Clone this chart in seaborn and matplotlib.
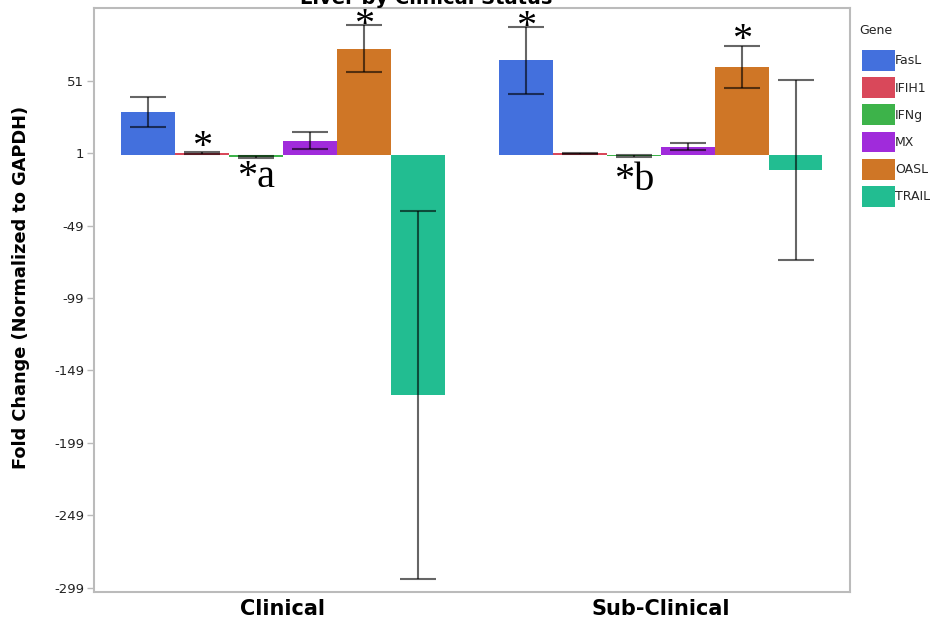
import matplotlib
matplotlib.use("Agg")
import matplotlib.pyplot as plt
import seaborn as sns
import pandas as pd

# values
groups = ["Clinical", "Sub-Clinical"]
genes = ["FasL", "IFIH1", "IFNg", "MX", "OASL", "TRAIL"]
clinical_mean = [29.6, 1.2, -1.6, 9.5, 73.0, -166.0]
clinical_err = [10.3, 0.5, 0.9, 6.0, 16.3, 127.0]
subclin_mean = [65.0, 0.8, -1.2, 5.5, 60.5, -10.6]
subclin_err = [23.0, 0.4, 0.8, 2.5, 14.6, 62.0]
palette = ["#4370DD", "#D9485A", "#3DB34A", "#A02BDB", "#CF7626", "#22BD91"]
y_ticks = [51, 1, -49, -99, -149, -199, -249, -299]

# significance marks: (group, gene, text, y)
marks = [("Clinical", "IFIH1", "*", 5),
         ("Clinical", "IFNg", "*a", -16),
         ("Clinical", "OASL", "*", 89),
         ("Sub-Clinical", "FasL", "*", 88),
         ("Sub-Clinical", "IFNg", "*b", -18),
         ("Sub-Clinical", "OASL", "*", 79)]

sns.set_theme(style="white")
plt.rcParams['font.family'] = ['DejaVu Sans']

df = pd.DataFrame({
    "Status": [groups[0]] * len(genes) + [groups[1]] * len(genes),
    "Gene": genes + genes,
    "Fold": clinical_mean + subclin_mean,
    "Err": clinical_err + subclin_err,
})

fig = plt.figure(figsize=(9.46, 6.23), dpi=100)
ax = fig.add_axes([0.0994, 0.0498, 0.799, 0.937])

sns.barplot(data=df, x="Status", y="Fold", hue="Gene", hue_order=genes,
            palette=palette, width=0.855, gap=0, errorbar=None,
            saturation=1, linewidth=0, ax=ax)

# error bars, placed on the bars seaborn drew
centers = {}
for gene, cont in zip(genes, ax.containers):
    sub = df[df["Gene"] == gene].set_index("Status")
    for grp, bar in zip(groups, cont):
        x = bar.get_x() + bar.get_width() / 2
        centers[(grp, gene)] = x
        ax.errorbar(x, sub.loc[grp, "Fold"], yerr=sub.loc[grp, "Err"],
                    fmt="none", ecolor="black", alpha=0.6, elinewidth=1.5,
                    capsize=13, capthick=1.5, zorder=5)

# asterisks
for grp, gene, txt, y in marks:
    ax.text(centers[(grp, gene)], y, txt, ha="center", va="center",
            fontsize=29, family="Liberation Serif", color="black", zorder=6)

ax.set_xlim(-0.5, 1.5)
ax.set_ylim(-302, 101)
ax.set_yticks(y_ticks)
ax.set_yticklabels([str(t) for t in y_ticks], fontsize=9.5, color="#222222")
ax.tick_params(axis="y", direction="out", length=5, width=1, color="#bbbbbb",
               left=True, pad=2)
ax.tick_params(axis="x", length=0, pad=5)
for lab in ax.get_xticklabels():
    lab.set_fontsize(15)
    lab.set_fontweight("bold")
    lab.set_color("black")
ax.set_xlabel("")
ax.set_ylabel("Fold Change (Normalized to GAPDH)", fontsize=12.8,
              fontweight="bold", color="black")
ax.yaxis.set_label_coords(-0.085, 0.522)
for sp in ax.spines.values():
    sp.set_color("#bbbbbb")
    sp.set_linewidth(1.5)

# legend: entries from seaborn's handles, title written on its own
handles, labels = ax.get_legend_handles_labels()
ax.legend(handles, labels, loc="upper left",
          bbox_to_anchor=(1.0095, 0.937), frameon=False, fontsize=9,
          handlelength=2.65, handleheight=2.2,
          labelspacing=0.5, handletextpad=0.0, borderaxespad=0)
fig.text(859 / 946, 1 - 31 / 623, "Gene", ha="left", va="center",
         fontsize=9, color="#222222")

fig.text(0.45, 0.9936, "Liver by Clinical Status", ha="center",
         va="baseline", fontsize=14, fontweight="bold", color="black")

fig.savefig("out.png", dpi=100)
